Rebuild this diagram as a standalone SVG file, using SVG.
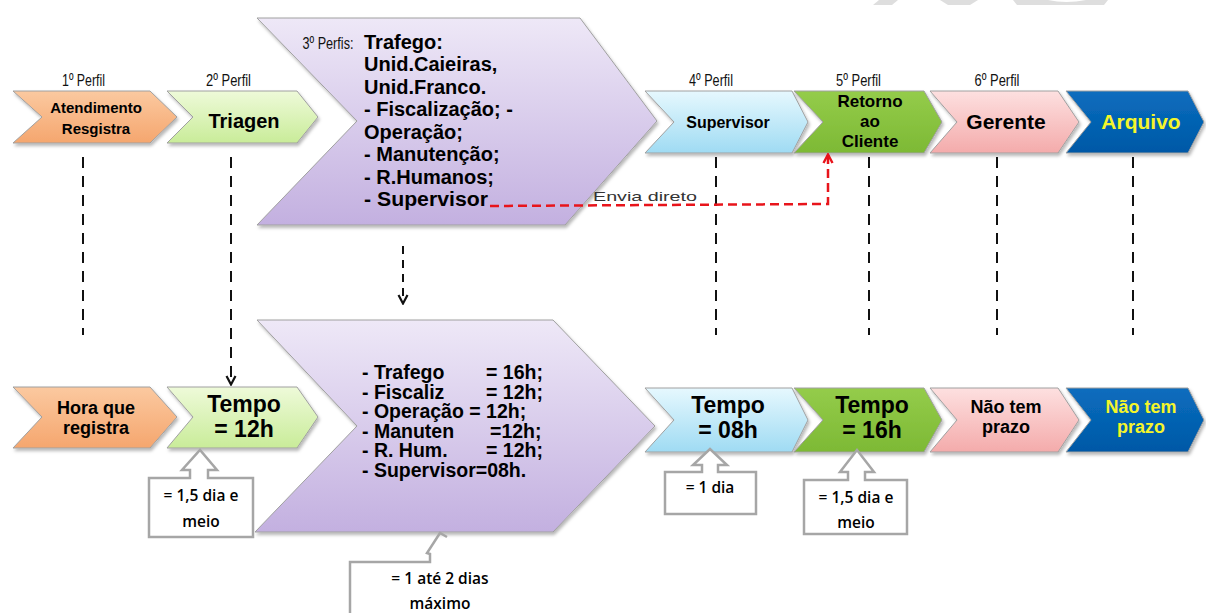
<svg xmlns="http://www.w3.org/2000/svg" width="1206" height="613" viewBox="0 0 1206 613">
<style>
.b{font-family:"Liberation Sans",Arial,sans-serif;font-weight:bold;fill:#000;text-anchor:middle}
.l{font-family:"Liberation Sans",Arial,sans-serif;font-weight:bold;font-size:20px;fill:#000}
.m{font-family:"Liberation Sans",Arial,sans-serif;font-weight:bold;font-size:19.5px;fill:#000}
.n{font-family:"Liberation Sans",Arial,sans-serif;font-size:17px;fill:#111;text-anchor:middle}
.c{font-family:"Open Sans","Liberation Sans",sans-serif;font-weight:600;font-size:15.5px;fill:#000;text-anchor:middle}
.chev{stroke:#a0a0a0;stroke-width:1;filter:url(#sh)}
.dash{stroke:#111;stroke-width:2;stroke-dasharray:11 8;fill:none}
.call{fill:#fff;stroke:#a6a6a6;stroke-width:2.5;stroke-linejoin:miter}
</style>
<defs>
<filter id="sh" x="-10%" y="-10%" width="130%" height="140%">
<feDropShadow dx="1.5" dy="2.5" stdDeviation="1.8" flood-color="#000" flood-opacity="0.28"/>
</filter>
<linearGradient id="gO" x1="0" y1="0" x2="0" y2="1"><stop offset="0" stop-color="#FBC9A0"/><stop offset="1" stop-color="#F5A66E"/></linearGradient>
<linearGradient id="gLG" x1="0" y1="0" x2="0" y2="1"><stop offset="0" stop-color="#EEFAD9"/><stop offset="1" stop-color="#C9EC99"/></linearGradient>
<linearGradient id="gP" x1="0" y1="0" x2="0" y2="1"><stop offset="0" stop-color="#EEE8F7"/><stop offset="1" stop-color="#C3B0E0"/></linearGradient>
<linearGradient id="gLB" x1="0" y1="0" x2="0" y2="1"><stop offset="0" stop-color="#E6F8FE"/><stop offset="1" stop-color="#9FDBF3"/></linearGradient>
<linearGradient id="gG" x1="0" y1="0" x2="0" y2="1"><stop offset="0" stop-color="#94CC4A"/><stop offset="1" stop-color="#7DB935"/></linearGradient>
<linearGradient id="gPk" x1="0" y1="0" x2="0" y2="1"><stop offset="0" stop-color="#FDE0E0"/><stop offset="1" stop-color="#F4ABAB"/></linearGradient>
<linearGradient id="gB" x1="0" y1="0" x2="0" y2="1"><stop offset="0" stop-color="#0A6DBE"/><stop offset="1" stop-color="#0058A6"/></linearGradient>
<marker id="ah" viewBox="0 0 12 12" refX="11" refY="6" markerWidth="12" markerHeight="12" orient="auto" markerUnits="userSpaceOnUse">
<path d="M2,1.5 L10.5,6 L2,10.5" fill="none" stroke="#111" stroke-width="2.2"/>
</marker>
<marker id="ahr" viewBox="0 0 12 12" refX="11" refY="6" markerWidth="12" markerHeight="12" orient="auto" markerUnits="userSpaceOnUse">
<path d="M2,1.5 L10.5,6 L2,10.5" fill="none" stroke="#E8141B" stroke-width="2.4"/>
</marker>
</defs>
<rect width="1206" height="613" fill="#fff"/>

<g id="watermark" fill="#dedede">
<polygon points="879,0 898,0 892,5 873,5"/>
<polygon points="940,0 978,0 970,5 948,5"/>
<path d="M1013,0 H1108 L1104,5 H1017 Z M1048,0 Q1066,4 1086,0 Z" fill-rule="evenodd"/>
</g>

<g id="labels">
<text class="n" x="83.5" y="86" textLength="43" lengthAdjust="spacingAndGlyphs">1º Perfil</text>
<text class="n" x="228.5" y="86" textLength="45" lengthAdjust="spacingAndGlyphs">2º Perfil</text>
<text class="n" x="711" y="86" textLength="44" lengthAdjust="spacingAndGlyphs">4º Perfil</text>
<text class="n" x="858.5" y="86" textLength="45" lengthAdjust="spacingAndGlyphs">5º Perfil</text>
<text class="n" x="997" y="86" textLength="45" lengthAdjust="spacingAndGlyphs">6º Perfil</text>
</g>

<g id="atendimento">
<polygon class="chev" fill="url(#gO)" points="13,91 150,91 177,117 150,143 13,143 42,117"/>
<text class="b" font-size="15" x="96" y="113">Atendimento</text>
<text class="b" font-size="15" x="96" y="134">Resgistra</text>
</g>
<g id="triagen">
<polygon class="chev" fill="url(#gLG)" points="167,91 297,91 318,117 297,143 167,143 193,117"/>
<text class="b" font-size="20" x="244" y="128">Triagen</text>
</g>
<g id="perfis3">
<polygon class="chev" fill="url(#gP)" points="257,18 580,18 657,121 565,225 257,225 357,121"/>
<text class="n" x="328" y="48.5" textLength="51" lengthAdjust="spacingAndGlyphs">3º Perfis:</text>
<text class="l" x="364" y="48.5">Trafego:</text>
<text class="l" x="364" y="71">Unid.Caieiras,</text>
<text class="l" x="364" y="93.5">Unid.Franco.</text>
<text class="l" x="364" y="116">- Fiscalização; -</text>
<text class="l" x="364" y="138.5">Operação;</text>
<text class="l" x="364" y="161">- Manutenção;</text>
<text class="l" x="364" y="183.5">- R.Humanos;</text>
<text class="l" x="364" y="206" textLength="124" lengthAdjust="spacingAndGlyphs">- Supervisor</text>
</g>
<g id="supervisor">
<polygon class="chev" fill="url(#gLB)" points="645,91 792,91 808,122 792,153 645,153 674,122"/>
<text class="b" font-size="16" x="728" y="128">Supervisor</text>
</g>
<g id="retorno">
<polygon class="chev" fill="url(#gG)" points="794,91 924,91 942,122 924,153 794,153 823,122"/>
<text class="b" font-size="17" x="870" y="107">Retorno</text>
<text class="b" font-size="17" x="870" y="127">ao</text>
<text class="b" font-size="17" x="870" y="147">Cliente</text>
</g>
<g id="gerente">
<polygon class="chev" fill="url(#gPk)" points="930,91 1058,91 1079,122 1058,153 930,153 957,122"/>
<text class="b" font-size="21" x="1006" y="129">Gerente</text>
</g>
<g id="arquivo">
<polygon class="chev" fill="url(#gB)" points="1066,91 1188,91 1204,122 1188,153 1066,153 1091,122"/>
<text class="b" font-size="21" x="1141" y="129" style="fill:#F5F52A">Arquivo</text>
</g>

<g id="hora">
<polygon class="chev" fill="url(#gO)" points="13,387 150,387 177,417 150,448 13,448 42,417"/>
<text class="b" font-size="18" x="96" y="414">Hora que</text>
<text class="b" font-size="18" x="96" y="434">registra</text>
</g>
<g id="tempo12">
<polygon class="chev" fill="url(#gLG)" points="167,387 297,387 318,417 297,448 167,448 193,417"/>
<text class="b" font-size="23" x="244" y="412">Tempo</text>
<text class="b" font-size="23" x="244" y="437">= 12h</text>
</g>
<g id="tempos3">
<polygon class="chev" fill="url(#gP)" points="257,320 553,320 655,426 553,532 255,532 357,426"/>
<text class="m"><tspan x="362" y="379">- Trafego</tspan><tspan x="486" y="379">= 16h;</tspan><tspan x="362" y="398.5">- Fiscaliz</tspan><tspan x="486" y="398.5">= 12h;</tspan><tspan x="362" y="418">- Operação = 12h;</tspan><tspan x="362" y="437.5">- Manuten</tspan><tspan x="490" y="437.5">=12h;</tspan><tspan x="362" y="457">- R. Hum.</tspan><tspan x="486" y="457">= 12h;</tspan><tspan x="362" y="476.5">- Supervisor=08h.</tspan></text>
</g>
<g id="tempo08">
<polygon class="chev" fill="url(#gLB)" points="645,388 792,388 808,420 792,452 645,452 674,420"/>
<text class="b" font-size="23" x="728" y="413">Tempo</text>
<text class="b" font-size="23" x="728" y="438">= 08h</text>
</g>
<g id="tempo16">
<polygon class="chev" fill="url(#gG)" points="794,388 924,388 942,420 924,452 794,452 823,420"/>
<text class="b" font-size="23" x="872" y="413">Tempo</text>
<text class="b" font-size="23" x="872" y="438">= 16h</text>
</g>
<g id="prazo6">
<polygon class="chev" fill="url(#gPk)" points="930,388 1058,388 1079,420 1058,452 930,452 957,420"/>
<text class="b" font-size="18" x="1006" y="413">Não tem</text>
<text class="b" font-size="18" x="1006" y="433">prazo</text>
</g>
<g id="prazoArq">
<polygon class="chev" fill="url(#gB)" points="1066,388 1188,388 1204,420 1188,452 1066,452 1091,420"/>
<text class="b" font-size="18" x="1141" y="413" style="fill:#F5F52A">Não tem</text>
<text class="b" font-size="18" x="1141" y="433" style="fill:#F5F52A">prazo</text>
</g>

<g id="callout12">
<path class="call" d="M149,478 H190 V470 H182 L200,450 L217,470 H208 V478 H253 V537 H149 Z"/>
<text class="c" x="201" y="501">= 1,5 dia e</text>
<text class="c" x="201" y="527">meio</text>
</g>
<g id="callout08">
<path class="call" d="M665,472 H702 V465 H693 L710,449 L727,465 H718 V472 H756 V514 H665 Z"/>
<text class="c" x="710" y="493">= 1 dia</text>
</g>
<g id="callout16">
<path class="call" d="M804,480 H848 V472 H840 L857,450 L874,472 H865 V480 H907 V534 H804 Z"/>
<text class="c" x="856" y="503">= 1,5 dia e</text>
<text class="c" x="856" y="528">meio</text>
</g>
<g id="callout3">
<path d="M350,613 V562 H430 V554 L427,553 L440,533 L447,537" fill="none" stroke="#a6a6a6" stroke-width="2.5"/>
<text class="c" x="440" y="584">= 1 até 2 dias</text>
<text class="c" x="440" y="609">máximo</text>
</g>

<g id="connectors">
<line class="dash" x1="83" y1="157" x2="83" y2="335"/>
<line class="dash" x1="231" y1="157" x2="231" y2="385" marker-end="url(#ah)"/>
<line class="dash" x1="716" y1="157" x2="716" y2="335"/>
<line class="dash" x1="869" y1="157" x2="869" y2="335"/>
<line class="dash" x1="997" y1="157" x2="997" y2="335"/>
<line class="dash" x1="1133" y1="157" x2="1133" y2="335"/>
<line class="dash" x1="403" y1="246" x2="403" y2="304" style="stroke-dasharray:8 6" marker-end="url(#ah)"/>
<path d="M490,206 L828,204 L828,154" fill="none" stroke="#E8141B" stroke-width="2.5" stroke-dasharray="9 5" marker-end="url(#ahr)"/>
<text x="593" y="201" font-family="Liberation Sans, Arial, sans-serif" font-size="13" fill="#333" textLength="104" lengthAdjust="spacingAndGlyphs">Envia direto</text>
</g>
</svg>
